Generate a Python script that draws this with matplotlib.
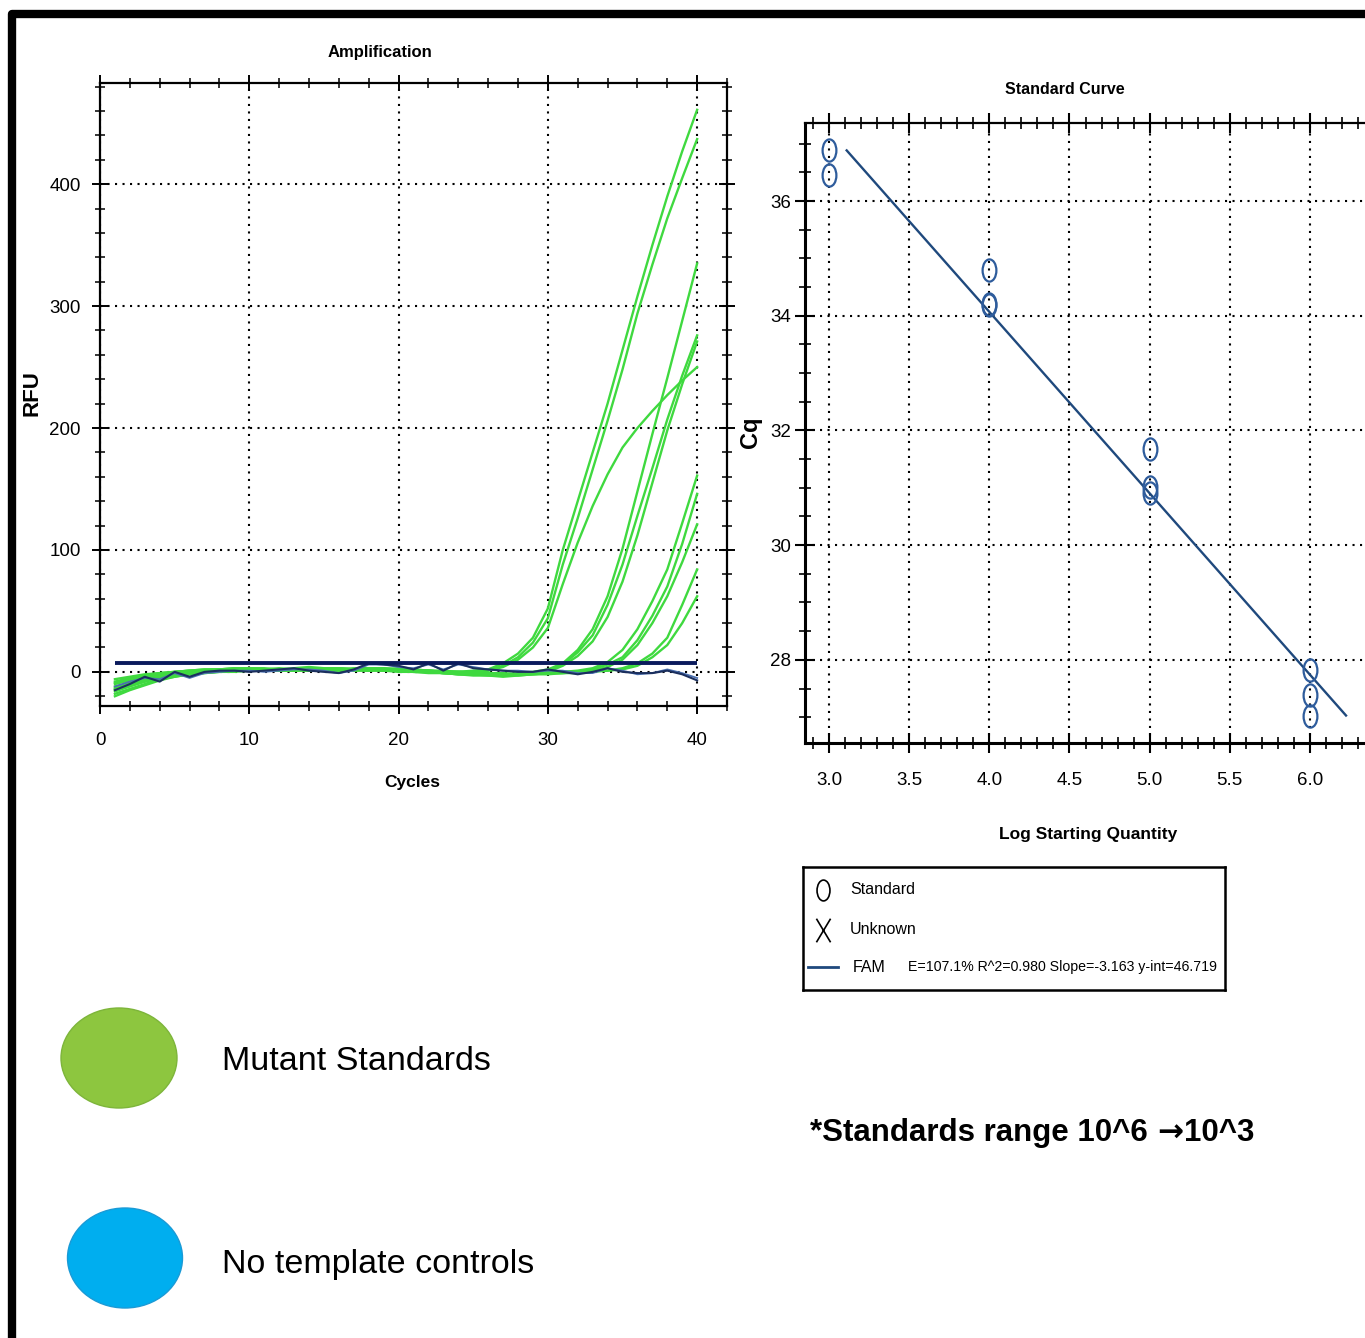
import numpy as np
import matplotlib
matplotlib.use("Agg")
import matplotlib.pyplot as plt
from matplotlib.patches import Ellipse
from matplotlib.path import Path
from matplotlib.transforms import Affine2D
from matplotlib.ticker import MultipleLocator, FormatStrFormatter

NARROW = ["Liberation Sans Narrow", "Liberation Sans", "DejaVu Sans"]
plt.rcParams["font.family"] = NARROW

# --- amplification data (RFU per cycle) ---
cycles = np.arange(1, 41)

# 10^6 standards
std_a1 = [-6, -4, -2, -1, 0, 1, 1, 2, 2, 2, 1, 2, 2, 3, 2, 2, 3, 3, 2, 2,
          1, 1, 0, 0, 1, 2, 7, 15, 28, 52, 100, 140, 180, 220, 264, 308, 350, 390, 427, 461]
std_a2 = [-12, -9, -6, -3, -1, 0, 1, 1, 2, 1, 2, 2, 1, 2, 3, 2, 2, 1, 2, 3,
          2, 1, 0, -1, 0, 1, 5, 12, 24, 44, 88, 126, 166, 206, 248, 294, 334, 372, 405, 437]
std_a3 = [-16, -12, -8, -5, -3, -1, 0, 1, 1, 2, 2, 1, 1, 2, 2, 3, 2, 2, 1, 2,
          1, 0, 0, 0, 0, 1, 4, 10, 20, 36, 72, 106, 136, 162, 184, 200, 214, 227, 239, 250]
# 10^5 standards
std_b1 = [-10, -7, -4, -2, 0, 1, 2, 2, 3, 2, 2, 3, 2, 2, 1, 2, 2, 3, 3, 2,
          2, 1, 1, 0, -1, -1, -2, -1, 0, 2, 7, 18, 35, 62, 101, 148, 195, 241, 288, 335]
std_b2 = [-14, -10, -7, -4, -2, -1, 0, 1, 1, 1, 2, 1, 2, 2, 2, 1, 1, 2, 2, 1,
          1, 0, -1, -1, -2, -2, -3, -2, -1, 1, 6, 16, 30, 55, 88, 128, 167, 207, 243, 276]
std_b3 = [-18, -14, -10, -6, -4, -2, -1, 0, 1, 1, 1, 1, 2, 1, 2, 2, 1, 1, 2, 1,
          0, 0, -1, -2, -2, -3, -3, -2, -1, 0, 5, 13, 25, 45, 74, 112, 155, 198, 236, 271]
# 10^4 standards
std_c1 = [-8, -5, -3, -1, 0, 1, 2, 2, 2, 3, 3, 2, 2, 3, 3, 2, 2, 3, 2, 2,
          1, 1, 0, 0, -1, -1, -2, -2, -1, -1, 0, 1, 3, 8, 18, 35, 58, 84, 122, 161]
std_c2 = [-13, -10, -6, -3, -1, 0, 1, 1, 2, 2, 2, 1, 1, 2, 3, 3, 2, 2, 1, 1,
          0, 0, -1, -2, -2, -2, -3, -2, -2, -1, -1, 0, 2, 6, 12, 26, 46, 70, 105, 146]
std_c3 = [-20, -15, -11, -7, -4, -2, -1, 0, 0, 1, 1, 1, 2, 2, 1, 1, 2, 2, 1, 0,
          0, -1, -1, -2, -3, -3, -4, -3, -2, -2, -1, -1, 1, 4, 10, 22, 40, 62, 90, 121]
# 10^3 standards
std_d1 = [-9, -6, -4, -2, -1, 0, 1, 2, 3, 3, 2, 2, 3, 4, 3, 3, 2, 2, 3, 2,
          1, 1, 0, 0, 0, -1, -1, -2, -1, 0, 0, 0, 1, 1, 3, 7, 15, 28, 55, 84]
std_d2 = [-15, -11, -8, -5, -3, -1, 0, 0, 1, 2, 2, 2, 1, 1, 2, 2, 2, 1, 1, 1,
          0, 0, -1, -1, -2, -2, -2, -3, -2, -1, -1, 0, 0, 1, 2, 5, 12, 22, 40, 62]

mutant_standards = [std_a1, std_a2, std_a3, std_b1, std_b2, std_b3,
                    std_c1, std_c2, std_c3, std_d1, std_d2]

# no template controls
ntc_1 = [-15, -10, -4, -8, 0, -4, 0, 1, 1, 0, 1, 2, 3, 1, 0, -1, 2, 7, 6, 5,
         2, 7, 1, 7, 3, 2, 1, 0, 0, 2, 0, -2, 0, 3, 0, -1, -1, 1, -2, -7]
ntc_2 = [-12, -8, -5, -6, -1, -5, -1, 0, 1, 1, 0, 1, 2, 2, 1, -1, 1, 6, 6, 4,
         3, 6, 2, 6, 4, 2, 1, 1, 0, 1, 1, -1, -1, 3, 1, -2, -1, 2, -1, -5]

threshold = 7.6
threshold_span = [1, 40]

# --- standard curve data ---
log_qty = [3.0, 3.0, 4.0, 4.0, 4.0, 5.0, 5.0, 5.0, 6.0, 6.0, 6.0]
cq = [36.89, 36.45, 34.80, 34.19, 34.21, 31.68, 31.02, 30.91, 27.83, 27.39, 27.02]
slope = -3.163
intercept = 46.719
fit_range = [3.11, 6.225]
fit_label = "E=107.1% R^2=0.980 Slope=-3.163 y-int=46.719"

W, H = 1365, 1338
fig = plt.figure(figsize=(W / 100, H / 100), dpi=100)


def box(left, top, right, bottom):
    # pixel box -> figure fraction rect
    return [left / W, 1 - bottom / H, (right - left) / W, (bottom - top) / H]


# page background: border, key and note
bg = fig.add_axes([0, 0, 1, 1], zorder=-1)
bg.set_xlim(0, W)
bg.set_ylim(H, 0)
bg.axis("off")
bg.plot([12, 12, W + 10], [H + 10, 14, 14], color="black", lw=6,
        solid_joinstyle="round")
bg.add_patch(Ellipse((119, 1058), 116, 100, fc="#8DC63F", ec="#7DB53A", lw=1))
bg.add_patch(Ellipse((125, 1258), 115, 100, fc="#00AEEF", ec="#1A9AD6", lw=1))
bg.text(222, 1062, "Mutant Standards", fontsize=24.5, va="center", ha="left")
bg.text(222, 1264, "No template controls", fontsize=24.5, va="center", ha="left")

# note with a bold arrow drawn from DejaVu, chained left to right
note = bg.text(810, 1133, "*Standards range 10^6", fontsize=22.5,
               fontweight="bold", va="center", ha="left")
arrow = bg.annotate("\u2192", xy=(1, 0.5), xycoords=note, xytext=(7, 0),
                    textcoords="offset points", fontsize=22.5, fontweight="bold",
                    family=["DejaVu Sans"], va="center", ha="left")
bg.annotate("10^3", xy=(1, 0.5), xycoords=arrow, xytext=(0, 0),
            textcoords="offset points", fontsize=22.5, fontweight="bold",
            va="center", ha="left")

grid_style = dict(color="black", linestyle=(0, (1, 2.6)), lw=1.5)

# --- amplification plot ---
ax1 = fig.add_axes(box(100, 83, 727, 706))
for curve in mutant_standards:
    ax1.plot(cycles, curve, color="#3FD93F", lw=1.7)
ax1.plot(cycles, ntc_2, color="#4A6FB0", lw=1.3)
ax1.plot(cycles, ntc_1, color="#1B2F5E", lw=1.5)
ax1.hlines(threshold, threshold_span[0], threshold_span[1], color="#0A1A5C", lw=2.8)
ax1.set_xlim(0, 42)
ax1.set_ylim(-28, 483)
ax1.xaxis.set_major_locator(MultipleLocator(10))
ax1.xaxis.set_minor_locator(MultipleLocator(2))
ax1.yaxis.set_major_locator(MultipleLocator(100))
ax1.yaxis.set_minor_locator(MultipleLocator(20))
ax1.grid(True, which="major", **grid_style)
ax1.tick_params(which="both", direction="inout", top=True, right=True)
ax1.tick_params(which="major", length=12, width=1.4, labelsize=13.5)
ax1.tick_params(axis="x", which="major", pad=13)
ax1.tick_params(axis="y", which="major", pad=8)
ax1.tick_params(which="minor", length=7, width=1.1)
for sp in ax1.spines.values():
    sp.set_linewidth(1.6)
fig.text(380 / W, 1 - 53 / H, "Amplification", fontsize=12, fontweight="bold",
         ha="center", va="center")
fig.text(32 / W, 1 - 393 / H, "RFU", fontsize=16, fontweight="bold",
         family=["Liberation Sans", "DejaVu Sans"], rotation=90,
         ha="center", va="center")
fig.text(412 / W, 1 - 783 / H, "Cycles", fontsize=12.5, fontweight="bold",
         ha="center", va="center")

# --- standard curve ---
oval = Path.unit_circle().transformed(Affine2D().scale(0.62, 1.0))
cross = Path([(-0.6, -1), (0.6, 1), (-0.6, 1), (0.6, -1)],
             [Path.MOVETO, Path.LINETO, Path.MOVETO, Path.LINETO])

ax2 = fig.add_axes(box(805, 123, 1380, 743))
fit_x = np.array(fit_range)
ax2.plot(fit_x, intercept + slope * fit_x, color="#1F497D", lw=1.7)
ax2.plot(log_qty, cq, linestyle="none", marker=oval, ms=16, mfc="none",
         mec="#2E5C9C", mew=1.6)
ax2.set_xlim(2.85, 6.437)
ax2.set_ylim(26.55, 37.36)
ax2.xaxis.set_major_locator(MultipleLocator(0.5))
ax2.xaxis.set_minor_locator(MultipleLocator(0.1))
ax2.xaxis.set_major_formatter(FormatStrFormatter("%.1f"))
ax2.yaxis.set_major_locator(MultipleLocator(2))
ax2.yaxis.set_minor_locator(MultipleLocator(0.5))
ax2.grid(True, which="major", **grid_style)
ax2.tick_params(which="both", direction="inout", top=True, right=True)
ax2.tick_params(which="major", length=14, width=1.5, labelsize=13.5)
ax2.tick_params(axis="x", which="major", pad=14)
ax2.tick_params(axis="y", which="major", pad=3)
ax2.tick_params(which="minor", length=8, width=1.2)
ax2.spines["left"].set_linewidth(2.2)
ax2.spines["bottom"].set_linewidth(2.2)
ax2.spines["top"].set_linewidth(1.6)
fig.text(1065 / W, 1 - 90 / H, "Standard Curve", fontsize=11.5, fontweight="bold",
         ha="center", va="center")
fig.text(750 / W, 1 - 432 / H, "Cq", fontsize=17, fontweight="bold",
         family=["Liberation Sans", "DejaVu Sans"], rotation=90,
         ha="center", va="center")
fig.text(1088 / W, 1 - 835 / H, "Log Starting Quantity", fontsize=12.5,
         fontweight="bold", ha="center", va="center")

# --- legend box under the standard curve ---
leg = fig.add_axes(box(803, 867, 1225, 990))
leg.set_xlim(0, 422)
leg.set_ylim(123, 0)
leg.set_xticks([])
leg.set_yticks([])
for sp in leg.spines.values():
    sp.set_linewidth(1.8)
leg.plot([20], [23], marker=oval, ms=15, mfc="none", mec="black", mew=1.2)
leg.plot([20], [63], marker=cross, ms=17, mfc="none", mec="black", mew=1.2)
leg.plot([5, 35], [100, 100], color="#1F497D", lw=2)
leg.text(47, 23, "Standard", fontsize=11.5, va="center")
leg.text(47, 63, "Unknown", fontsize=11.5, va="center")
leg.text(50, 100, "FAM", fontsize=11.5, va="center")
leg.text(105, 100, fit_label, fontsize=10.2, va="center")

fig.savefig("out.png", dpi=100)
